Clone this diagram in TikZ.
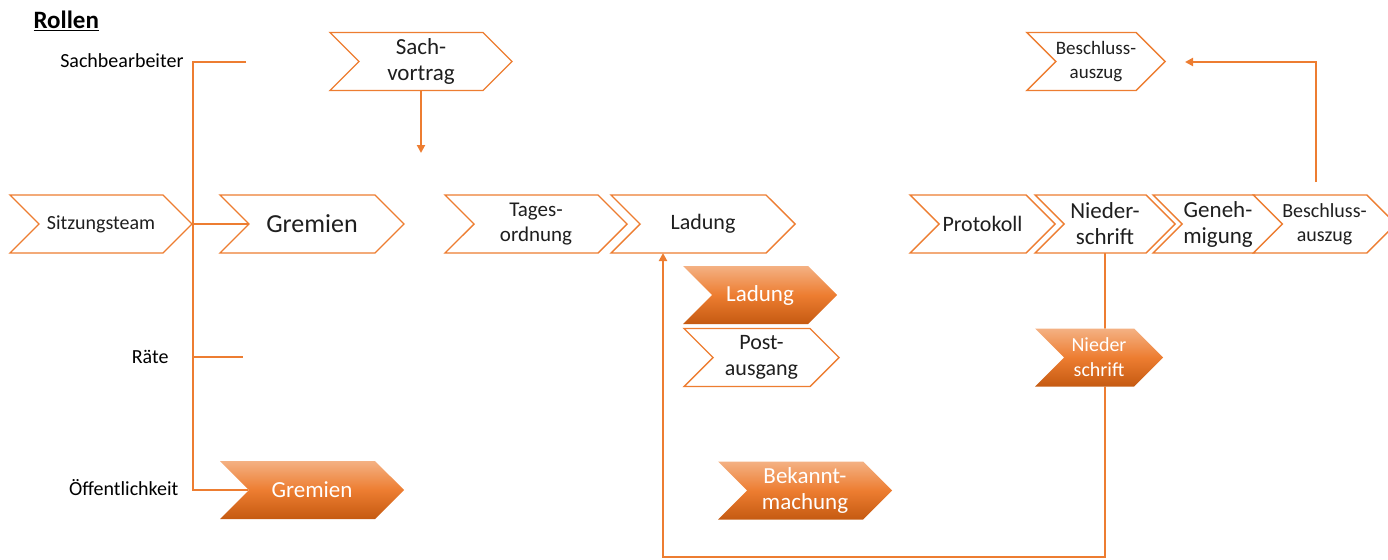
\documentclass[tikz,border=0pt]{standalone}
\usepackage{fontspec}
\setmainfont{Carlito}
\usetikzlibrary{shapes.symbols,arrows.meta,backgrounds}
\definecolor{orng}{HTML}{ED7D31}
\definecolor{orngL}{HTML}{F4B183}
\definecolor{orngD}{HTML}{C55A11}
\definecolor{txt}{HTML}{1F1F1F}
\newcommand{\fs}[2]{\fontsize{#1}{#2}\selectfont}
\tikzset{
  chev/.style={signal, signal from=west, signal to=east, signal pointer angle=90,
    minimum height=58pt, inner sep=0pt, outer sep=0pt, align=center,
    draw=orng, line width=1.4pt, fill=white, text=txt},
  chevfill/.style={chev, draw=none, top color=orngL, bottom color=orngD,
    middle color=orng, text=white},
  link/.style={color=orng, line width=2.3pt},
  tip/.style={-{Triangle[width=8pt,length=8pt]}},
  role/.style={anchor=east, text=black, font=\fs{20}{24}}
}
\begin{document}
\begin{tikzpicture}[x=1pt,y=-1pt]
  \useasboundingbox (0,0) rectangle (1388,559);
  \node[anchor=west, font=\fs{25}{29}\bfseries] (title) at (30,21) {\underline{Rollen}};
  % roles
  \node[role] (r1) at (187,61) {Sachbearbeiter};
  \node[role] (r3) at (172,357) {Räte};
  \node[role] (r4) at (182,488) {Öffentlichkeit};
  % main row
  \node[chev, minimum width=182pt, font=\fs{20}{24}] (sitz) at (101,224) {Sitzungsteam};
  \node[chev, minimum width=184pt, font=\fs{26}{30}] (grem) at (312,224) {Gremien};
  \node[chev, minimum width=182pt, font=\fs{23}{26}] (sach) at (421,61.5) {Sach-\\vortrag};
  \node[chev, minimum width=182pt, font=\fs{21}{25}] (tages) at (536,224) {Tages-\\ordnung};
  \node[chev, minimum width=184pt, font=\fs{22}{26}] (lad) at (703,224) {Ladung};
  \node[chev, minimum width=155pt, font=\fs{22}{26}] (post) at (761.5,357.5) {Post-\\ausgang};
  \node[chev, minimum width=145pt, font=\fs{22}{26}] (prot) at (982.5,224) {Protokoll};
  \node[chev, minimum width=140pt, font=\fs{23}{26}] (nied) at (1105,224) {Nieder-\\schrift};
  \node[chev, minimum width=130pt, font=\fs{23}{26}] (gen) at (1218,224) {Geneh-\\migung};
  \node[chev, minimum width=125pt, font=\fs{20}{24}] (besch) at (1324.5,224) {Beschluss-\\auszug};
  \node[chev, minimum width=128pt, font=\fs{19}{24}] (beschT) at (1096,61.5) {Beschluss-\\auszug};
  % filled
  \node[chevfill, minimum width=154pt, font=\fs{23}{26}] (ladO) at (760,295) {Ladung};
  \node[chevfill, minimum width=184pt, font=\fs{23}{26}] (gremO) at (312,490) {Gremien};
  \node[chevfill, minimum width=174pt, font=\fs{23}{26}] (bek) at (805,490.5) {Bekannt-\\machung};
  \node[chevfill, minimum width=128pt, font=\fs{20}{25}] (niedO) at (1099,357.5) {Nieder\\schrift};
  % connectors
  \coordinate (k1) at (193,62);
  \coordinate (k1e) at (246,62);
  \coordinate (k3) at (193,357);
  \coordinate (k3e) at (243,357);
  \coordinate (sachE) at (421,153);
  \coordinate (loopL) at (663,557);
  \coordinate (bsUp) at (1316,182);
  \coordinate (bsEnd) at (1185,62);
  \begin{scope}[on background layer]
    \draw[link, line width=2pt] (k1e) -- (k1) |- (gremO.west);
    \draw[link, line width=2pt] (sitz.east) -- (grem.west);
    \draw[link, line width=2pt] (k3) -- (k3e);
    \draw[link, tip] (sach.south) -- (sachE);
    \draw[link, tip] (nied.south) |- (loopL) -- (loopL |- lad.south);
    \draw[link, tip] (bsUp) |- (bsEnd);
  \end{scope}
\end{tikzpicture}
\end{document}
